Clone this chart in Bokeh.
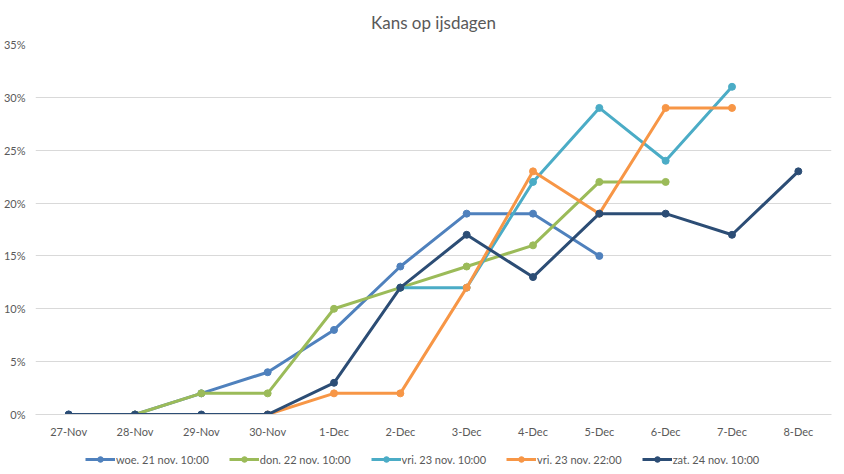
from bokeh.plotting import figure
from bokeh.layouts import column
from bokeh.models import FactorRange, PrintfTickFormatter, Range1d, FixedTicker, Legend
from bokeh.embed import file_html
from bokeh.resources import INLINE

title = "Kans op ijsdagen"
days = ["27-Nov", "28-Nov", "29-Nov", "30-Nov", "1-Dec", "2-Dec", "3-Dec",
        "4-Dec", "5-Dec", "6-Dec", "7-Dec", "8-Dec"]

N = None
woe_21 = [0, 0, 2, 4, 8, 14, 19, 19, 15, N, N, N]
don_22 = [N, 0, 2, 2, 10, 12, 14, 16, 22, 22, N, N]
vri_23_10 = [N, N, N, N, N, 12, 12, 22, 29, 24, 31, N]
vri_23_22 = [N, N, N, 0, 2, 2, 12, 23, 19, 29, 29, N]
zat_24 = [0, 0, 0, 0, 3, 12, 17, 13, 19, 19, 17, 23]

series_names = ["woe. 21 nov. 10:00", "don. 22 nov. 10:00", "vri. 23 nov. 10:00",
                "vri. 23 nov. 22:00", "zat. 24 nov. 10:00"]
series_values = [woe_21, don_22, vri_23_10, vri_23_22, zat_24]
colors = ["#4F81BD", "#9BBB59", "#4BACC6", "#F79646", "#2C4D75"]

y_ticks = [0, 5, 10, 15, 20, 25, 30, 35]

FONT = "Lato"
GRAY = "#595959"

p = figure(frame_width=796, frame_height=370, x_range=FactorRange(*days), y_range=Range1d(0, 35),
           output_backend="svg", toolbar_location=None, title=title,
           min_border_left=29, min_border_right=3, min_border_top=44, min_border_bottom=30)

p.title.align = "center"
p.title.vertical_align = "top"
p.title.text_font = FONT
p.title.text_font_size = "17px"
p.title.text_font_style = "normal"
p.title.text_color = GRAY
p.title.standoff = 20

p.outline_line_color = None
p.xgrid.grid_line_color = None
p.ygrid.grid_line_color = "#D9D9D9"
p.ygrid.grid_line_width = 1

p.yaxis.ticker = FixedTicker(ticks=y_ticks)
p.yaxis.formatter = PrintfTickFormatter(format="%d%%")
for ax in (p.xaxis[0], p.yaxis[0]):
    ax.axis_line_color = None
    ax.major_tick_line_color = None
    ax.minor_tick_line_color = None
    ax.major_tick_out = 0
    ax.major_tick_in = 0
    ax.minor_tick_out = 0
    ax.major_label_text_font = FONT
    ax.major_label_text_font_size = "11px"
    ax.major_label_text_color = GRAY
p.yaxis.major_label_standoff = 10
p.xaxis.major_label_standoff = 10
p.xaxis.axis_line_color = "#D9D9D9"

# legend strip below the chart (its series sit outside its visible range)
q = figure(width=828, height=26, x_range=FactorRange(*days), y_range=Range1d(100, 101),
           output_backend="svg", toolbar_location=None, x_axis_type=None, y_axis_type=None,
           min_border=0)
q.outline_line_color = None
q.xgrid.visible = False
q.ygrid.visible = False

items = []
for name, vals, col in zip(series_names, series_values, colors):
    xs = [d for d, v in zip(days, vals) if v is not None]
    ys = [v for v in vals if v is not None]
    p.line(xs, ys, line_color=col, line_width=3)
    p.scatter(xs, ys, marker="circle", size=7, fill_color=col, line_color=col)
    l1 = q.line(xs, ys, line_color=col, line_width=3)
    l2 = q.scatter(xs, ys, marker="circle", size=7, fill_color=col, line_color=col)
    items.append((name, [l1, l2]))

legend = Legend(items=items, orientation="horizontal", location=(50, 4),
                label_text_font=FONT, label_text_font_size="11px", label_text_color=GRAY,
                border_line_color=None, background_fill_alpha=0,
                glyph_width=30, glyph_height=14, spacing=20, label_standoff=1,
                padding=2, margin=0, label_height=14)
q.add_layout(legend)

layout = column(p, q, spacing=0)
open("out.html", "w").write(file_html(layout, INLINE))
